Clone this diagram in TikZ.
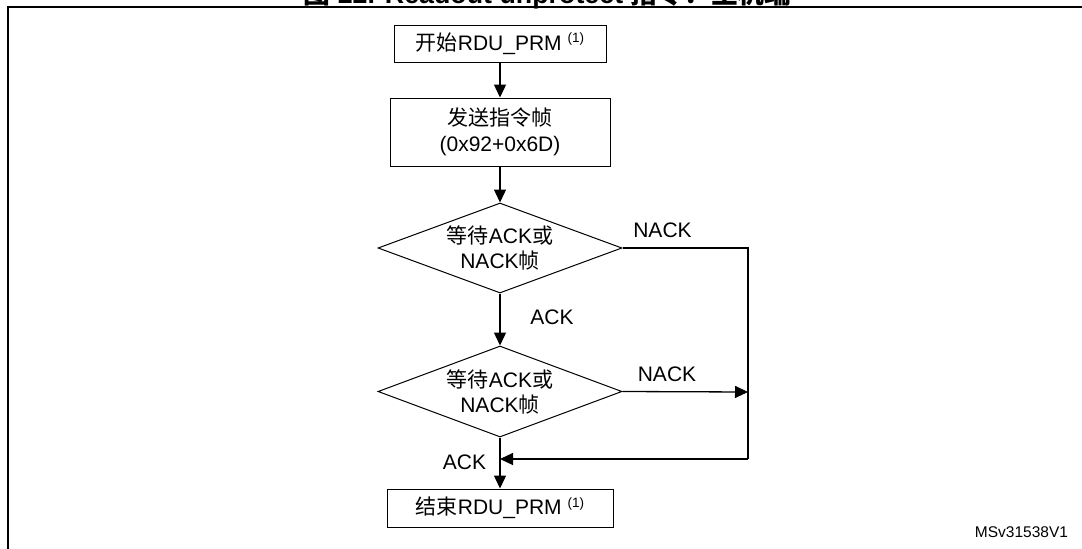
\documentclass[tikz,border=0pt]{standalone}
\usepackage{fontspec}
\setmainfont{Liberation Sans}
\newfontfamily\cjk{Noto Sans CJK SC}
\usetikzlibrary{shapes.geometric,arrows.meta}
\newcommand{\fnm}{\raisebox{7.5pt}{\fontsize{13.5}{13.5}\selectfont(1)}}
\begin{document}
\begin{tikzpicture}[x=1pt,y=-1pt,
  every node/.style={font=\fontsize{21}{25}\selectfont},
  procbox/.style={draw, line width=1pt, inner sep=0pt, align=center},
  decision/.style={draw, line width=1pt, diamond, shape aspect=2.7, inner sep=0pt, align=center, minimum width=244pt, minimum height=90pt},
  flow/.style={line width=1.3pt, -{Triangle[length=13pt,width=12pt]}},
  plain/.style={line width=1.3pt},
  lbl/.style={inner sep=0pt}]
\useasboundingbox (0,0) rectangle (1082,549);
\clip (0,0) rectangle (1082,549);
% frame
\draw[line width=2pt] (7.5,560) -- (7.5,6.5) -- (1090,6.5);
% clipped title
\node[anchor=base, inner sep=0pt, font=\bfseries\fontsize{26.8}{27}\selectfont] (title) at (547.5,3) {{\cjk 图} 22. Readout unprotect {\cjk 指令：主机端}};
% nodes
\node[procbox, minimum width=212pt, minimum height=37pt] (start) at (500,43.5) {{\cjk 开始}RDU\_PRM \fnm};
\node[procbox, minimum width=220pt, minimum height=68pt] (send) at (500,132) {{\cjk 发送指令帧}\\[1pt](0x92+0x6D)};
\node[decision] (d1) at (500,248) {{\cjk 等待}ACK{\cjk 或}\\NACK{\cjk 帧}};
\node[decision, minimum height=91pt] (d2) at (500,391.5) {{\cjk 等待}ACK{\cjk 或}\\NACK{\cjk 帧}};
\node[procbox, minimum width=226pt, minimum height=38pt] (end) at (500,508) {{\cjk 结束}RDU\_PRM \fnm};
\coordinate (c1) at (748,248);
\coordinate (c2) at (748,459);
\coordinate (m) at (500,459);
\coordinate (j) at (748,392);
% connectors
\draw[flow] (start.south) -- (send.north);
\draw[flow] (send.south) -- (d1.north);
\draw[flow] (d1.south) -- (d2.north);
\draw[flow] (d2.south) -- (end.north);
\draw[plain] (d1.east) -- (c1) -- (c2);
\draw[flow] (c2) -- (m);
\draw[flow] (d2.east) -- (j);
% labels
\node[lbl] (l1) at (662.5,230) {NACK};
\node[lbl] (l2) at (552,317.5) {ACK};
\node[lbl] (l3) at (667,374.5) {NACK};
\node[lbl] (l4) at (464.5,462) {ACK};
\node[lbl, font=\fontsize{15.5}{18}\selectfont] (id) at (1021.5,532) {MSv31538V1};
\end{tikzpicture}
\end{document}
